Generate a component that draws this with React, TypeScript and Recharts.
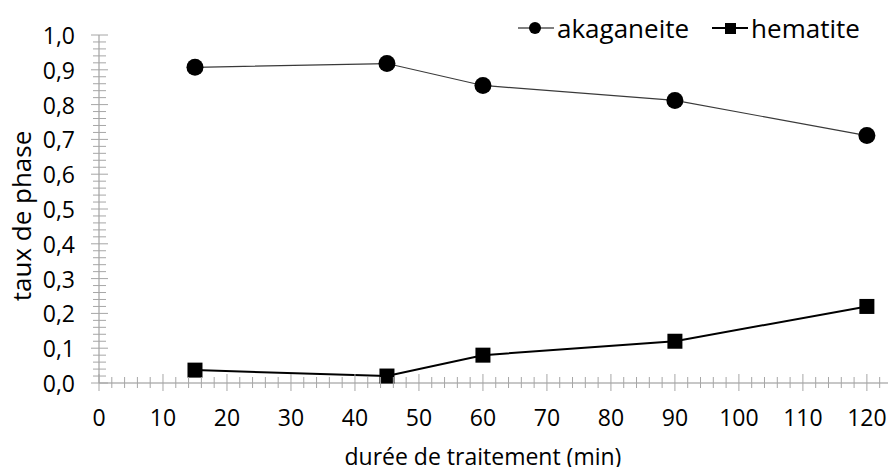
import React from 'react';
import { LineChart, Line, XAxis, YAxis, Label } from 'recharts';

const durations = [15, 45, 60, 90, 120];
const akaganeite = [0.907, 0.918, 0.855, 0.812, 0.711];
const hematite = [0.037, 0.02, 0.08, 0.12, 0.22];
const seriesNames = ['akaganeite', 'hematite'];

const xMajorTicks = [0, 10, 20, 30, 40, 50, 60, 70, 80, 90, 100, 110, 120];
const yMajorTicks = [0, 0.1, 0.2, 0.3, 0.4, 0.5, 0.6, 0.7, 0.8, 0.9, 1.0];
const xMinorStep = 2;
const yMinorStep = 0.02;
const xMax = 123.3;

const xTicks: number[] = [];
for (let i = 0; i * xMinorStep <= xMax; i++) xTicks.push(i * xMinorStep);
const yTicks: number[] = [];
for (let i = 0; i <= 50; i++) yTicks.push(Math.round(i * yMinorStep * 1000) / 1000);

const data = durations.map((d, i) => ({ t: d, akaganeite: akaganeite[i], hematite: hematite[i] }));

const FONT = '"Open Sans", Lato, sans-serif';
const TICK_COLOR = '#a6a6a6';
const AXIS_COLOR = '#8f8f8f';

const isMajorX = (v: number) => xMajorTicks.some((m) => Math.abs(m - v) < 1e-6);
const isMajorY = (v: number) => yMajorTicks.some((m) => Math.abs(m - v) < 1e-6);

const YTick = (props: any) => {
  const { x, y, payload } = props;
  const v = payload.value;
  if (isMajorY(v)) {
    return (
      <g>
        <line x1={x - 8} x2={x + 9} y1={y} y2={y} stroke={TICK_COLOR} strokeWidth={1} />
        <text x={x - 24} y={y} textAnchor="end" dominantBaseline="central" fontFamily={FONT} fontSize={23} fill="#000">
          {v.toFixed(1).replace('.', ',')}
        </text>
      </g>
    );
  }
  return <line x1={x - 6} x2={x + 7} y1={y} y2={y} stroke={TICK_COLOR} strokeWidth={1} />;
};

const XTick = (props: any) => {
  const { x, y, payload } = props;
  const v = payload.value;
  if (isMajorX(v)) {
    return (
      <g>
        <line x1={x} x2={x} y1={y - 9} y2={y + 8} stroke={TICK_COLOR} strokeWidth={1} />
        <text x={x} y={y + 34} textAnchor="middle" dominantBaseline="central" fontFamily={FONT} fontSize={23} fill="#000">
          {String(v)}
        </text>
      </g>
    );
  }
  return <line x1={x} x2={x} y1={y - 6} y2={y + 5} stroke={TICK_COLOR} strokeWidth={1} />;
};

const CircleDot = (props: any) => {
  const { cx, cy } = props;
  if (cx == null || cy == null) return null;
  return <circle cx={cx} cy={cy} r={8.5} fill="#000" stroke="none" />;
};

const SquareDot = (props: any) => {
  const { cx, cy } = props;
  if (cx == null || cy == null) return null;
  return <rect x={cx - 7.5} y={cy - 7.5} width={15} height={15} fill="#000" stroke="none" />;
};

const LegendIcon = ({ kind }: { kind: string }) => (
  <svg width={36} height={16} style={{ display: 'block' }}>
    <line x1={0} x2={36} y1={8} y2={8} stroke="#000" strokeWidth={kind === 'circle' ? 1.2 : 2} />
    {kind === 'circle' ? <circle cx={17} cy={8} r={6} fill="#000" /> : <rect x={13} y={3} width={11} height={11} fill="#000" />}
  </svg>
);

export default function App() {
  return (
    <div style={{ position: 'absolute', left: 0, top: 0, width: 888, height: 467, background: '#fff', overflow: 'hidden' }}>
      <LineChart width={888} height={467} data={data} margin={{ top: 35, right: 0, bottom: 0, left: 0 }}>
        <XAxis
          dataKey="t"
          type="number"
          domain={[0, xMax]}
          ticks={xTicks}
          interval={0}
          tickSize={0}
          tickMargin={0}
          height={84}
          tick={<XTick />}
          axisLine={{ stroke: AXIS_COLOR, strokeWidth: 1 }}
          tickLine={false}
          allowDataOverflow
        >
          <Label
            content={(p: any) => {
              const vb = p.viewBox || { x: 99, y: 383, width: 789, height: 84 };
              const cx = vb.x + (vb.width * (120 / xMax)) / 2;
              return (
                <text x={cx} y={vb.y + vb.height - 11} textAnchor="middle" dominantBaseline="central" fontFamily={FONT} fontSize={23} fill="#000">
                  durée de traitement (min)
                </text>
              );
            }}
          />
        </XAxis>
        <YAxis
          type="number"
          domain={[0, 1]}
          ticks={yTicks}
          interval={0}
          tickSize={0}
          tickMargin={0}
          width={99}
          tick={<YTick />}
          axisLine={{ stroke: AXIS_COLOR, strokeWidth: 1 }}
          tickLine={false}
        >
          <Label
            content={(p: any) => {
              const vb = p.viewBox || { x: 0, y: 35, width: 99, height: 348 };
              const cx = vb.x + 21;
              const cy = vb.y + vb.height / 2 + 7;
              return (
                <text x={cx} y={cy} transform={`rotate(-90, ${cx}, ${cy})`} textAnchor="middle" dominantBaseline="central" fontFamily={FONT} fontSize={26} fill="#000">
                  taux de phase
                </text>
              );
            }}
          />
        </YAxis>
        <Line
          dataKey="akaganeite"
          name={seriesNames[0]}
          stroke="#3a3a3a"
          strokeWidth={1.2}
          dot={<CircleDot />}
          activeDot={false}
          isAnimationActive={false}
        />
        <Line
          dataKey="hematite"
          name={seriesNames[1]}
          stroke="#000"
          strokeWidth={2}
          dot={<SquareDot />}
          activeDot={false}
          isAnimationActive={false}
        />
      </LineChart>
      <div
        style={{
          position: 'absolute',
          left: 518,
          top: 11,
          display: 'flex',
          alignItems: 'center',
          fontFamily: FONT,
          fontSize: 26,
          color: '#000',
          lineHeight: '34px',
        }}
      >
        <LegendIcon kind="circle" />
        <span style={{ marginLeft: 3 }}>{seriesNames[0]}</span>
        <span style={{ width: 23 }} />
        <LegendIcon kind="square" />
        <span style={{ marginLeft: 3 }}>{seriesNames[1]}</span>
      </div>
    </div>
  );
}
